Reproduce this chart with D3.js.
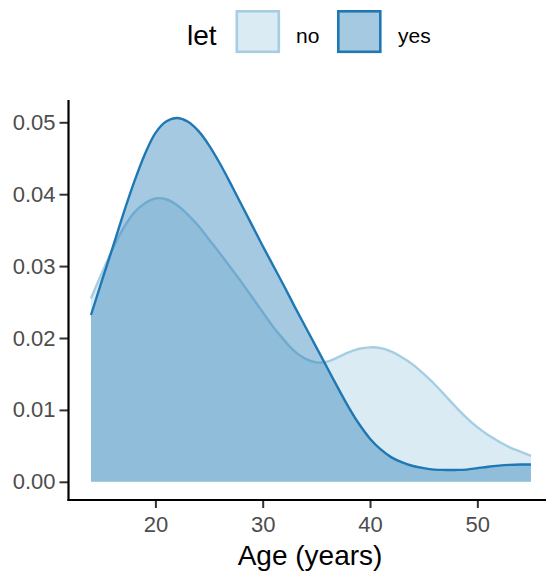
<!DOCTYPE html>
<html>
<head>
<meta charset="utf-8">
<script src="https://cdn.jsdelivr.net/npm/d3@7"></script>
<style>
  html, body { margin: 0; padding: 0; background: #ffffff; }
  svg { display: block; }
</style>
</head>
<body>
<svg id="chart" width="546" height="574"></svg>
<script>
// ---- data ----
const groups = ["no", "yes"];
const ages = [14, 15, 16, 17, 18, 19, 20, 21, 22, 23, 24, 25, 26, 27, 28, 29, 30, 31, 32, 33, 34, 35, 36, 37, 38, 39, 40, 41, 42, 43, 44, 45, 46, 47, 48, 49, 50, 51, 52, 53, 54, 55];
const densNo = [0.0255, 0.0290, 0.0323, 0.0352, 0.0374, 0.0387, 0.0394, 0.0393, 0.0385, 0.0372, 0.0356, 0.0337, 0.0318, 0.0298, 0.0278, 0.0257, 0.0236, 0.0215, 0.0197, 0.0181, 0.0171, 0.0166, 0.0167, 0.0173, 0.0180, 0.0185, 0.0187, 0.0186, 0.0181, 0.0173, 0.0163, 0.0150, 0.0136, 0.0120, 0.0104, 0.0089, 0.0076, 0.0065, 0.0056, 0.0048, 0.0042, 0.0036];
const densYes = [0.0232, 0.0279, 0.0325, 0.0372, 0.0416, 0.0455, 0.0485, 0.0501, 0.0506, 0.0501, 0.0488, 0.0468, 0.0443, 0.0415, 0.0386, 0.0357, 0.0328, 0.0300, 0.0272, 0.0243, 0.0215, 0.0187, 0.0159, 0.0131, 0.0104, 0.0080, 0.0060, 0.0045, 0.0034, 0.0027, 0.0022, 0.0019, 0.0017, 0.00165, 0.00165, 0.0017, 0.0019, 0.0021, 0.00225, 0.00235, 0.0024, 0.0024];
const xTicks = [20, 30, 40, 50];
const yTicks = [0, 0.01, 0.02, 0.03, 0.04, 0.05];
const lineColors = ["#a6cee3", "#1f78b4"];
const fillColors = ["rgba(166,206,227,0.4)", "rgba(31,120,180,0.4)"];
const xTitle = "Age (years)";
const legendTitle = "let";

const seriesValues = [densNo, densYes];
const series = seriesValues.map(vals => ages.map((a, i) => ({x: a, y: vals[i]})));

const svg = d3.select("#chart");
const FONT = "'Liberation Sans', Arial, Helvetica, sans-serif";

const x = d3.scaleLinear().domain([11.95, 57.05]).range([69, 553]);
const y = d3.scaleLinear().domain([-0.00253, 0.0531]).range([500, 100]);

const curve = d3.curveCatmullRom.alpha(0.5);
const area = d3.area().x(d => x(d.x)).y0(y(0)).y1(d => y(d.y)).curve(curve);
const line = d3.line().x(d => x(d.x)).y(d => y(d.y)).curve(curve);

// draw groups in order: fill then outline
series.forEach((s, i) => {
  svg.append("path").datum(s).attr("d", area)
    .attr("fill", fillColors[i]).attr("stroke", "none");
  svg.append("path").datum(s).attr("d", line)
    .attr("fill", "none").attr("stroke", lineColors[i])
    .attr("stroke-width", 2.4).attr("stroke-linejoin", "round");
});

// y axis
const yAxis = d3.axisLeft(y).tickValues(yTicks).tickFormat(d3.format(".2f"))
  .tickSize(9).tickPadding(4);
const gy = svg.append("g").attr("transform", "translate(68.5,0)").call(yAxis);
gy.select(".domain").remove();
gy.selectAll(".tick line").attr("stroke", "#333333").attr("stroke-width", 2);
gy.selectAll(".tick text").attr("fill", "#4d4d4d")
  .style("font-family", FONT).style("font-size", "22px");
svg.append("line").attr("x1", 68.5).attr("x2", 68.5).attr("y1", 100).attr("y2", 501)
  .attr("stroke", "#000").attr("stroke-width", 2.2);

// x axis
const xAxis = d3.axisBottom(x).tickValues(xTicks).tickFormat(d3.format("d"))
  .tickSize(8).tickPadding(8);
const gx = svg.append("g").attr("transform", "translate(0,500)").call(xAxis);
gx.select(".domain").remove();
gx.selectAll(".tick line").attr("stroke", "#333333").attr("stroke-width", 2);
gx.selectAll(".tick text").attr("fill", "#4d4d4d")
  .style("font-family", FONT).style("font-size", "22px");
svg.append("line").attr("x1", 67.5).attr("x2", 553).attr("y1", 500).attr("y2", 500)
  .attr("stroke", "#000").attr("stroke-width", 2.2);

// x title
svg.append("text").attr("x", 310).attr("y", 565).attr("text-anchor", "middle")
  .style("font-family", FONT).style("font-size", "28px").attr("fill", "#000")
  .text(xTitle);

// legend
svg.append("text").attr("x", 187).attr("y", 45)
  .style("font-family", FONT).style("font-size", "28px").attr("fill", "#000")
  .text(legendTitle);
const keyX = [235.5, 337];
const labX = [296, 398];
groups.forEach((g, i) => {
  svg.append("rect").attr("x", keyX[i] + 1.3).attr("y", 11.3).attr("width", 42).attr("height", 40.5)
    .attr("fill", fillColors[i]).attr("stroke", lineColors[i]).attr("stroke-width", 2.6);
  svg.append("text").attr("x", labX[i]).attr("y", 42.5)
    .style("font-family", FONT).style("font-size", "21px").attr("fill", "#000")
    .text(g);
});
</script>
</body>
</html>
